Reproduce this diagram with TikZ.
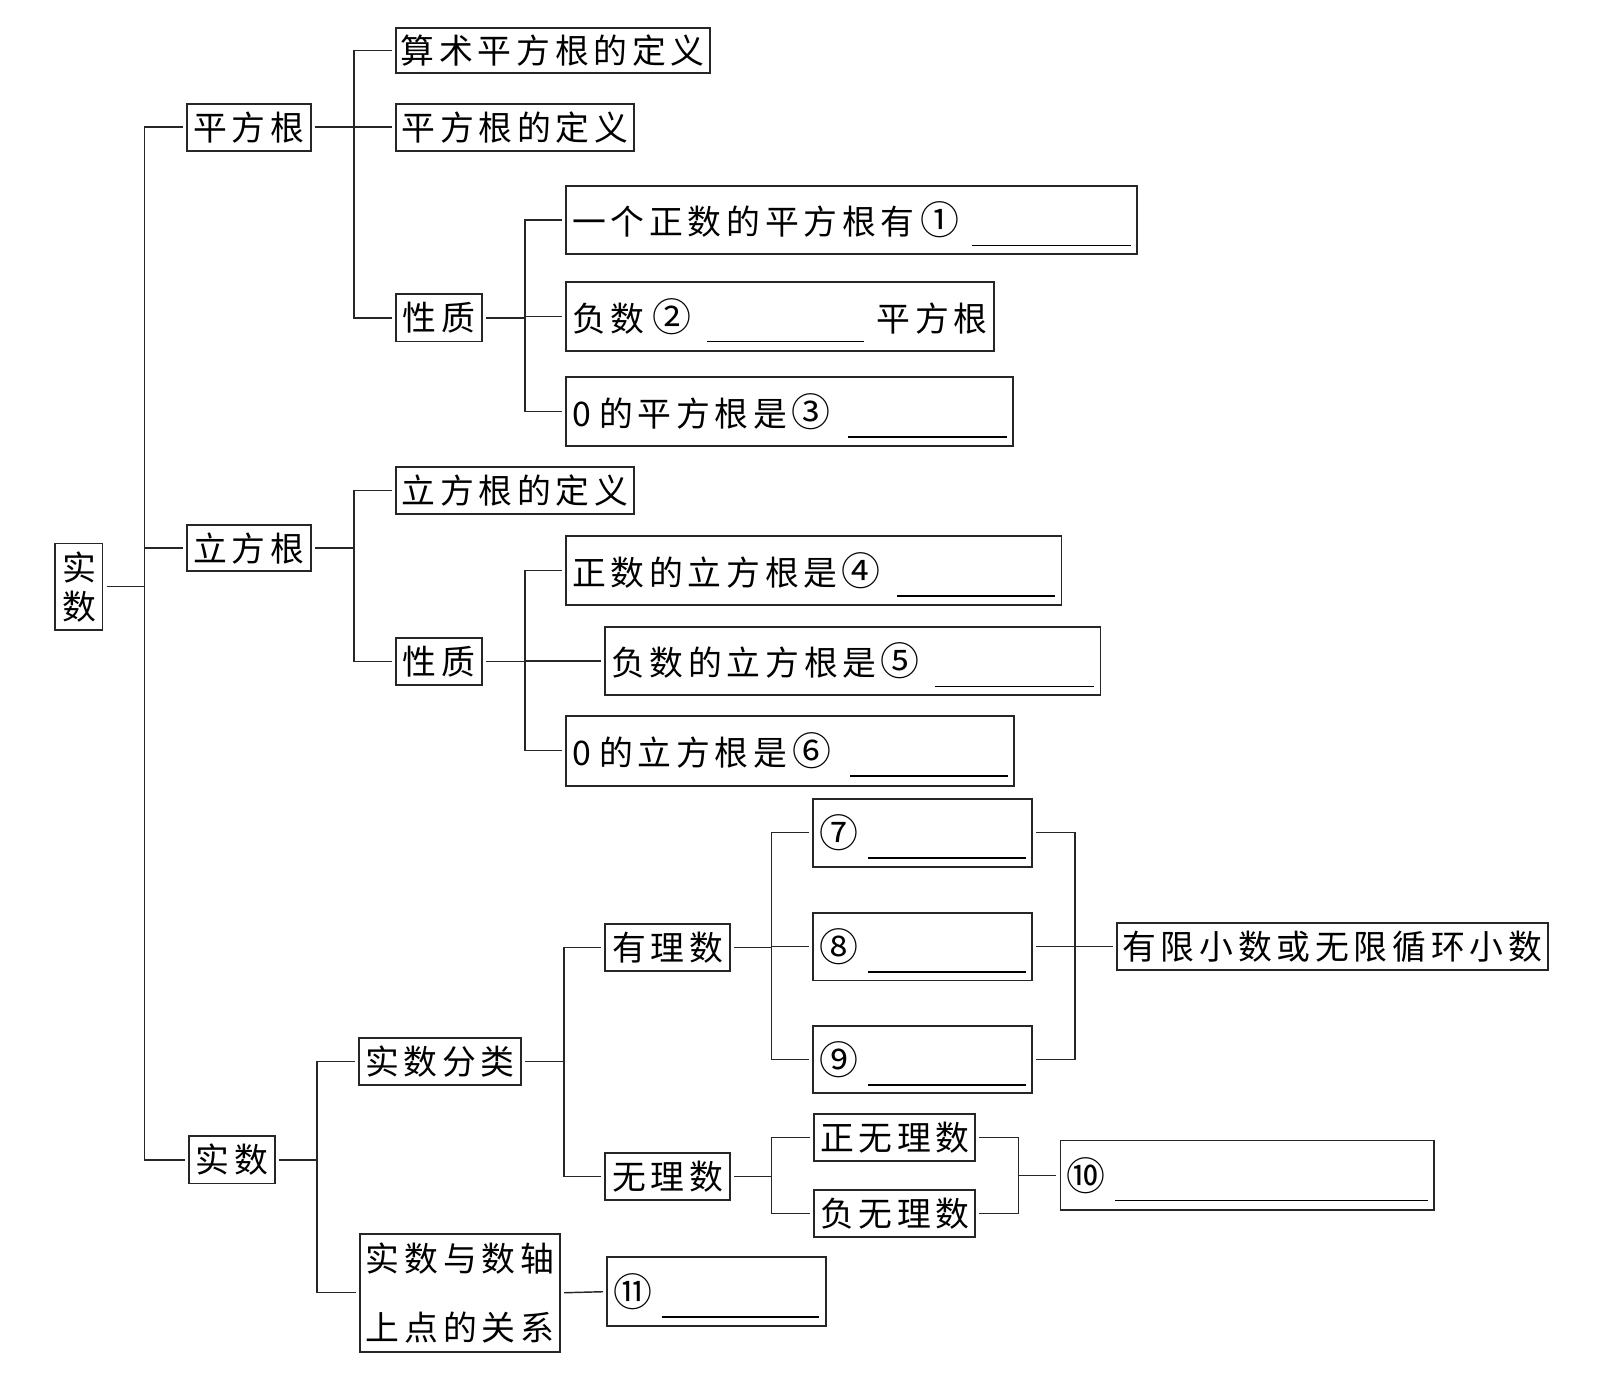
\documentclass[tikz,border=0pt]{standalone}
\usepackage{fontspec}
\setmainfont{Noto Sans CJK SC}[LetterSpace=14]
\newcommand{\bl}[1]{\smash{\rule[-11pt]{#1pt}{1.4pt}}}
\newcommand{\cn}[1]{\scalebox{1.15}{#1}}
\begin{document}
\begin{tikzpicture}[x=1pt,y=-1pt,
  every node/.style={font=\fontsize{33}{40}\selectfont},
  bx/.style 2 args={draw=black!85, line width=1.8pt, inner sep=0pt, outer sep=4pt,
     minimum width=#1pt, minimum height=#2pt, align=center},
  bk/.style 2 args={draw=black!85, line width=1.8pt, inner xsep=6pt, inner ysep=0pt, outer sep=4pt,
     text width=#1pt, minimum height=#2pt, align=left},
  ln/.style={draw=black!85, line width=1.4pt}]
\useasboundingbox (0,0) rectangle (1564,1341.6);
\fill[white] (0,0) rectangle (1564,1341.6);
% nodes
\node[bx={46}{84}, font=\fontsize{33}{38}\selectfont] (root) at (77,572) {实\\数};
\node[bx={121}{46}] (pf) at (242.5,124) {平方根};
\node[bx={121}{45}] (lf) at (242.5,534.5) {立方根};
\node[bx={84}{46}] (ss) at (226,1131) {实数};
\node[bx={306}{44}] (def1) at (539,49) {算术平方根的定义};
\node[bx={232}{46}] (def2) at (502,124) {平方根的定义};
\node[bx={84}{46}] (xz1) at (428,310) {性质};
\node[bk={545}{67}] (p1) at (830.5,214.5) {一个正数的平方根有\hspace{6pt}\cn{①}\hfill\bl{155}};
\node[bk={405}{67}] (p2) at (760.5,308.5) {负数\hspace{8pt}\cn{②}\hfill\bl{153}\hspace{12pt}平方根};
\node[bk={424}{67}] (p3) at (770,401.5) {0\hspace{8pt}的平方根是\hspace{4pt}\cn{③}\hfill\bl{155}};
\node[bx={232}{46}] (def3) at (502,478) {立方根的定义};
\node[bx={84}{46}] (xz2) at (428,645) {性质};
\node[bk={471}{67}] (c1) at (793.5,556.5) {正数的立方根是\hspace{4pt}\cn{④}\hfill\bl{154}};
\node[bk={471}{67}] (c2) at (831.5,644.5) {负数的立方根是\hspace{4pt}\cn{⑤}\hfill\bl{155}};
\node[bk={425}{68}] (c3) at (770.5,732) {0\hspace{8pt}的立方根是\hspace{5pt}\cn{⑥}\hfill\bl{154}};
\node[bx={158}{46}] (fl) at (429,1035) {实数分类};
\node[bx={195}{115}, font=\fontsize{33}{67}\selectfont] (gx) at (448.5,1260.5) {实数与数轴\\上点的关系};
\node[bx={122}{46}] (yl) at (651,924) {有理数};
\node[bx={122}{46}] (wl) at (651,1147) {无理数};
\node[bk={201}{66}] (b7) at (899.5,812) {\cn{⑦}\hfill\bl{154}};
\node[bk={201}{66}] (b8) at (899.5,923) {\cn{⑧}\hfill\bl{154}};
\node[bk={201}{66}] (b9) at (899.5,1033) {\cn{⑨}\hfill\bl{154}};
\node[bx={420}{46}] (yx) at (1299,923) {有限小数或无限循环小数};
\node[bx={157}{46}] (zw) at (872.5,1109) {正无理数};
\node[bx={157}{46}] (fw) at (872.5,1183) {负无理数};
\node[bk={352}{68}] (b10) at (1216,1146) {\cn{⑩}\hfill\bl{305}};
\node[bk={201}{67}] (b11) at (698.5,1259.5) {\cn{⑪}\hfill\bl{154}};
% connectors
\coordinate (t0) at (141,572);
\draw[ln] (root.east) -- (t0);
\draw[ln] (t0) |- (pf.west);
\draw[ln] (t0) |- (lf.west);
\draw[ln] (t0) |- (ss.west);
\coordinate (t1) at (345,124);
\draw[ln] (pf.east) -- (t1);
\draw[ln] (t1) |- (def1.west);
\draw[ln] (t1) -- (def2.west);
\draw[ln] (t1) |- (xz1.west);
\coordinate (t2) at (512,310);
\draw[ln] (xz1.east) -- (t2);
\draw[ln] (t2) |- (p1.west);
\draw[ln] (t2) |- (p2.west);
\draw[ln] (t2) |- (p3.west);
\coordinate (t3) at (345,534.5);
\draw[ln] (lf.east) -- (t3);
\draw[ln] (t3) |- (def3.west);
\draw[ln] (t3) |- (xz2.west);
\coordinate (t4) at (512,645);
\draw[ln] (xz2.east) -- (t4);
\draw[ln] (t4) |- (c1.west);
\draw[ln] (t4) |- (c2.west);
\draw[ln] (t4) |- (c3.west);
\coordinate (t5) at (309,1131);
\draw[ln] (ss.east) -- (t5);
\draw[ln] (t5) |- (fl.west);
\draw[ln] (t5) |- (gx.west);
\coordinate (t6) at (550,1035);
\draw[ln] (fl.east) -- (t6);
\draw[ln] (t6) |- (yl.west);
\draw[ln] (t6) |- (wl.west);
\coordinate (t7) at (752,924);
\draw[ln] (yl.east) -- (t7);
\draw[ln] (t7) |- (b7.west);
\draw[ln] (t7) |- (b8.west);
\draw[ln] (t7) |- (b9.west);
\coordinate (t8) at (1048,923);
\draw[ln] (b7.east) -| (t8);
\draw[ln] (b9.east) -| (t8);
\draw[ln] (b8.east) -- (yx.west);
\coordinate (t9) at (752,1147);
\draw[ln] (wl.east) -- (t9);
\draw[ln] (t9) |- (zw.west);
\draw[ln] (t9) |- (fw.west);
\coordinate (t10) at (993,1146);
\draw[ln] (zw.east) -| (t10);
\draw[ln] (fw.east) -| (t10);
\draw[ln] (t10) -- (b10.west);
\draw[ln] (gx.east) -- (b11.west);
\end{tikzpicture}
\end{document}
